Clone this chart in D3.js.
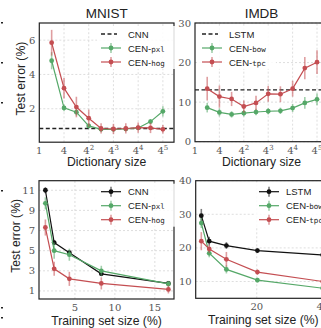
<!DOCTYPE html>
<html lang="en">
  <head>
    <meta charset="UTF-8" />
    <script src="https://d3js.org/d3.v7.min.js"></script>
    <title>CEN results</title>
    <style>
      body { margin: 0; background: #fff; }
      svg { display: block; }
    </style>
  </head>
  <body>
    <svg id="chart" width="321" height="328"></svg>
    <script>
      // ---- data ----
      var dictSizes = [2, 4, 8, 16, 32, 64, 128, 256, 512, 1024];
      var dictTicks = [1, 4, 16, 64, 256, 1024];
      var dictTickExp = ['', '', '2', '3', '4', '5'];

      var mnistCnn = 0.85;
      var mnistPxl = [4.8, 2.05, 1.8, 1.0, 0.8, 0.8, 0.82, 0.88, 1.25, 1.85];
      var mnistPxlErr = [0.5, 0.2, 0.2, 0.15, 0.12, 0.12, 0.12, 0.12, 0.15, 0.3];
      var mnistHog = [5.85, 3.2, 2.1, 1.45, 0.85, 0.82, 0.85, 0.9, 0.88, 0.8];
      var mnistHogErr = [0.75, 0.6, 0.6, 0.5, 0.3, 0.3, 0.3, 0.3, 0.3, 0.25];

      var imdbLstm = 13.1;
      var imdbBow = [8.6, 7.4, 6.9, 7.2, 7.5, 7.7, 7.8, 8.5, 9.8, 10.7];
      var imdbBowErr = [1.2, 1.0, 0.8, 0.8, 0.8, 0.8, 0.8, 1.0, 1.5, 1.5];
      var imdbTpc = [13.4, 11.4, 10.8, 8.9, 9.8, 12.1, 12.0, 13.4, 18.6, 20.1];
      var imdbTpcErr = [3, 2.8, 1.8, 1.5, 1.8, 2, 2, 2, 2.8, 3];

      var mnistTrain = [1.3, 2.4, 4.3, 8.3, 16.7];
      var mnistCnnTrain = [11.0, 5.8, 4.8, 2.7, 1.75];
      var mnistCnnTrainErr = [0.3, 0.2, 0.2, 0.2, 0.15];
      var mnistPxlTrain = [9.7, 5.0, 4.6, 3.0, 1.7];
      var mnistPxlTrainErr = [0.6, 0.8, 0.6, 0.5, 0.3];
      var mnistHogTrain = [7.3, 3.2, 2.2, 1.75, 1.15];
      var mnistHogTrainErr = [0.8, 0.7, 0.7, 0.6, 0.4];

      var imdbTrain = [3.2, 5.6, 10.8, 20.2, 40];
      var imdbLstmTrain = [29.6, 22.0, 20.7, 19.2, 17.9];
      var imdbLstmTrainErr = [2, 1.3, 1, 0.7, 0.6];
      var imdbBowTrain = [27.4, 18.4, 13.6, 10.4, 8.0];
      var imdbBowTrainErr = [1.5, 1.2, 1.2, 0.7, 0.6];
      var imdbTpcTrain = [22.0, 19.7, 16.6, 12.8, 10.0];
      var imdbTpcTrainErr = [2.7, 1.2, 2.2, 0.8, 0.6];

      var GREEN = '#55a868', RED = '#c44e52', BLACK = '#111';
      var SANS = 'Liberation Sans, Arial, sans-serif';
      var SERIF = 'DejaVu Serif, Liberation Serif, serif';
      var MONO = 'DejaVu Sans Mono, Liberation Mono, monospace';

      var svg = d3.select('#chart');

      // stray marks on the left edge of the crop
      [22, 62, 102, 190, 307, 317].forEach(function(y) {
        svg.append('rect').attr('x', 1).attr('y', y).attr('width', 2).attr('height', 1.5).attr('fill', '#222');
      });

      // one panel
      function panel(o) {
        var g = svg.append('g');
        var x = o.x, y = o.y;
        var x0 = x.range()[0], x1 = x.range()[1];
        var y0 = y.range()[0], y1 = y.range()[1];

        // grid
        g.selectAll('.gx').data(o.xGrid).enter().append('line')
          .attr('x1', function(d) { return x(d); }).attr('x2', function(d) { return x(d); })
          .attr('y1', y0).attr('y2', y1)
          .attr('stroke', '#d6d6d6').attr('stroke-width', 0.8).attr('stroke-dasharray', '2,2');
        g.selectAll('.gy').data(o.yTicks).enter().append('line')
          .attr('x1', x0).attr('x2', x1)
          .attr('y1', function(d) { return y(d); }).attr('y2', function(d) { return y(d); })
          .attr('stroke', '#d6d6d6').attr('stroke-width', 0.8).attr('stroke-dasharray', '2,2');

        // baseline (dashed reference)
        if (o.ref != null) {
          g.append('line').attr('x1', x0).attr('x2', x1)
            .attr('y1', y(o.ref)).attr('y2', y(o.ref))
            .attr('stroke', '#222').attr('stroke-width', 1.3).attr('stroke-dasharray', '4,2.5');
        }

        // series
        o.series.forEach(function(s) {
          var pts = s.xs.map(function(v, i) { return { x: v, y: s.ys[i], e: s.err[i] }; });
          g.selectAll(null).data(pts).enter().append('line')
            .attr('x1', function(d) { return x(d.x); }).attr('x2', function(d) { return x(d.x); })
            .attr('y1', function(d) { return y(d.y - d.e); }).attr('y2', function(d) { return y(d.y + d.e); })
            .attr('stroke', s.color).attr('stroke-opacity', 0.55).attr('stroke-width', 1.6);
          g.append('path').datum(pts)
            .attr('d', d3.line().x(function(d) { return x(d.x); }).y(function(d) { return y(d.y); }))
            .attr('fill', 'none').attr('stroke', s.color).attr('stroke-width', 1.2);
          g.selectAll(null).data(pts).enter().append('circle')
            .attr('cx', function(d) { return x(d.x); }).attr('cy', function(d) { return y(d.y); })
            .attr('r', 2.4).attr('fill', s.color);
        });

        // frame
        g.append('rect').attr('x', x0).attr('y', y1).attr('width', x1 - x0).attr('height', y0 - y1)
          .attr('fill', 'none').attr('stroke', '#222').attr('stroke-width', 1.2);

        // y tick labels
        g.selectAll('.yl').data(o.yTicks).enter().append('text')
          .attr('x', x0 - 4).attr('y', function(d) { return y(d) + 3.5; })
          .attr('text-anchor', 'end').attr('font-family', SERIF).attr('font-size', 10).attr('fill', '#555')
          .text(function(d) { return d; });

        // x tick labels
        var xl = g.selectAll('.xl').data(o.xTicks).enter().append('text')
          .attr('x', function(d) { return x(d); }).attr('y', y0 + 12)
          .attr('text-anchor', 'middle').attr('font-family', SERIF).attr('font-size', 10).attr('fill', '#555');
        xl.append('tspan').text(function(d, i) { return o.xLabel(d, i).base; });
        xl.append('tspan').attr('dy', -4).attr('font-size', 7)
          .text(function(d, i) { return o.xLabel(d, i).exp; });

        // titles
        var cx = (x0 + x1) / 2;
        if (o.title) {
          g.append('text').attr('x', cx).attr('y', y1 - 5).attr('text-anchor', 'middle')
            .attr('font-family', SANS).attr('font-size', 13.5).attr('fill', '#222').text(o.title);
        }
        g.append('text').attr('x', cx).attr('y', y0 + o.xLabelOff).attr('text-anchor', 'middle')
          .attr('font-family', SANS).attr('font-size', 12.2).attr('fill', '#222').text(o.xTitle);
        if (o.yTitle) {
          g.append('text').attr('transform', 'translate(' + o.yTitleX + ',' + ((y0 + y1) / 2 - 4) + ') rotate(-90)')
            .attr('text-anchor', 'middle').attr('font-family', SANS).attr('font-size', 12.2).attr('fill', '#222')
            .text(o.yTitle);
        }

        // legend
        var lg = g.append('g');
        lg.append('rect').attr('x', o.leg.x - 4).attr('y', o.leg.y - 8)
          .attr('width', 78).attr('height', 43).attr('fill', '#fff').attr('fill-opacity', 0.85);
        o.leg.items.forEach(function(it, i) {
          var ly = o.leg.y + i * 14;
          var lx = o.leg.x;
          if (it.dashed) {
            lg.append('line').attr('x1', lx).attr('x2', lx + 16).attr('y1', ly).attr('y2', ly)
              .attr('stroke', '#222').attr('stroke-width', 1.3).attr('stroke-dasharray', '4,2.5');
          } else {
            lg.append('line').attr('x1', lx + 10).attr('x2', lx + 10).attr('y1', ly - 5).attr('y2', ly + 5)
              .attr('stroke', it.color).attr('stroke-opacity', 0.55).attr('stroke-width', 1.6);
            lg.append('line').attr('x1', lx).attr('x2', lx + 20).attr('y1', ly).attr('y2', ly)
              .attr('stroke', it.color).attr('stroke-width', 1.2);
            lg.append('circle').attr('cx', lx + 10).attr('cy', ly).attr('r', 2.4).attr('fill', it.color);
          }
          var t = lg.append('text').attr('x', lx + 27).attr('y', ly + 3.5)
            .attr('font-family', SANS).attr('font-size', 9.5).attr('fill', '#222');
          t.append('tspan').text(it.name);
          if (it.sub) t.append('tspan').attr('font-family', MONO).attr('font-size', 7.5).text(it.sub);
        });
      }

      function powLabel(d, i) { return { base: d === 1 ? '1' : '4', exp: dictTickExp[i] }; }
      function numLabel(d) { return { base: String(d), exp: '' }; }

      // MNIST, dictionary size
      panel({
        x: d3.scaleLog().base(4).domain([1, Math.pow(4, 5.45)]).range([39.3, 174]),
        y: d3.scaleLinear().domain([0.05, 7]).range([142.2, 23]),
        xTicks: dictTicks, xGrid: dictTicks.slice(1), yTicks: [2, 4, 6], xLabel: powLabel,
        ref: mnistCnn, title: 'MNIST', xTitle: 'Dictionary size', xLabelOff: 24,
        yTitle: 'Test error (%)', yTitleX: 24.5,
        series: [
          { xs: dictSizes, ys: mnistPxl, err: mnistPxlErr, color: GREEN },
          { xs: dictSizes, ys: mnistHog, err: mnistHogErr, color: RED }
        ],
        leg: { x: 101, y: 34, items: [
          { name: 'CNN', dashed: true },
          { name: 'CEN-', sub: 'pxl', color: GREEN },
          { name: 'CEN-', sub: 'hog', color: RED }
        ] }
      });

      // IMDB, dictionary size
      panel({
        x: d3.scaleLog().base(4).domain([1, Math.pow(4, 5.45)]).range([195, 328]),
        y: d3.scaleLinear().domain([0, 30]).range([141.7, 23]),
        xTicks: dictTicks, xGrid: dictTicks.slice(1), yTicks: [0, 10, 20, 30], xLabel: powLabel,
        ref: imdbLstm, title: 'IMDB', xTitle: 'Dictionary size', xLabelOff: 24,
        series: [
          { xs: dictSizes, ys: imdbBow, err: imdbBowErr, color: GREEN },
          { xs: dictSizes, ys: imdbTpc, err: imdbTpcErr, color: RED }
        ],
        leg: { x: 202, y: 34, items: [
          { name: 'LSTM', dashed: true },
          { name: 'CEN-', sub: 'bow', color: GREEN },
          { name: 'CEN-', sub: 'tpc', color: RED }
        ] }
      });

      // MNIST, training set size
      panel({
        x: d3.scaleLinear().domain([0.5, 17.4]).range([39, 174]),
        y: d3.scaleLinear().domain([0.2, 11.95]).range([299, 180.7]),
        xTicks: [5, 10, 15], xGrid: [5, 10, 15], yTicks: [1, 3, 5, 7, 9, 11], xLabel: numLabel,
        xTitle: 'Training set size (%)', xLabelOff: 26,
        yTitle: 'Test error (%)', yTitleX: 19.5,
        series: [
          { xs: mnistTrain, ys: mnistCnnTrain, err: mnistCnnTrainErr, color: BLACK },
          { xs: mnistTrain, ys: mnistPxlTrain, err: mnistPxlTrainErr, color: GREEN },
          { xs: mnistTrain, ys: mnistHogTrain, err: mnistHogTrainErr, color: RED }
        ],
        leg: { x: 101, y: 191.7, items: [
          { name: 'CNN', color: BLACK },
          { name: 'CEN-', sub: 'pxl', color: GREEN },
          { name: 'CEN-', sub: 'hog', color: RED }
        ] }
      });

      // IMDB, training set size
      panel({
        x: d3.scaleLinear().domain([1.5, 42.5]).range([195.7, 331]),
        y: d3.scaleLinear().domain([5, 40]).range([298.3, 180.7]),
        xTicks: [20, 40], xGrid: [20, 40], yTicks: [10, 20, 30, 40], xLabel: numLabel,
        xTitle: 'Training set size (%)', xLabelOff: 26,
        series: [
          { xs: imdbTrain, ys: imdbLstmTrain, err: imdbLstmTrainErr, color: BLACK },
          { xs: imdbTrain, ys: imdbBowTrain, err: imdbBowTrainErr, color: GREEN },
          { xs: imdbTrain, ys: imdbTpcTrain, err: imdbTpcTrainErr, color: RED }
        ],
        leg: { x: 259, y: 191.7, items: [
          { name: 'LSTM', color: BLACK },
          { name: 'CEN-', sub: 'bow', color: GREEN },
          { name: 'CEN-', sub: 'tpc', color: RED }
        ] }
      });
    </script>
  </body>
</html>
